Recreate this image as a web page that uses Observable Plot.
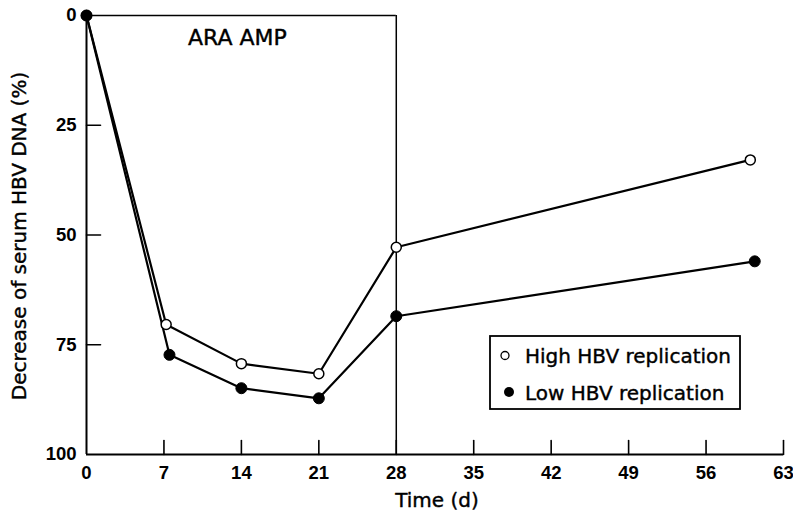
<!DOCTYPE html>
<html>
<head>
<meta charset="utf-8">
<script src="https://cdn.jsdelivr.net/npm/d3@7"></script>
<script src="https://cdn.jsdelivr.net/npm/@observablehq/plot@0.6"></script>
<style>
  html, body { margin: 0; padding: 0; background: #fff; }
  #chart { position: relative; width: 793px; height: 511px; }
  #chart svg text { fill: #000; }
  #legend { position: absolute; left: 489px; top: 335px; }
</style>
</head>
<body>
<div id="chart"></div>
<script>
// ---- data ----
const highDays = [0, 7.2, 14, 21, 28, 60];
const highDecrease = [0, 70.4, 79.3, 81.6, 52.8, 32.9];
const lowDays = [0, 7.5, 14, 21, 28, 60.4];
const lowDecrease = [0, 77.3, 84.9, 87.2, 68.5, 56.0];
const xTicks = [0, 7, 14, 21, 28, 35, 42, 49, 56, 63];
const yTicks = [0, 25, 50, 75, 100];
const treatmentDays = [0, 28];
const treatmentLabel = "ARA AMP";
const xLabel = "Time (d)";
const yLabel = "Decrease of serum HBV DNA (%)";
const seriesNames = ["High HBV replication", "Low HBV replication"];

const high = highDays.map((d, i) => ({day: d, value: highDecrease[i]}));
const low = lowDays.map((d, i) => ({day: d, value: lowDecrease[i]}));

const tickShape = {draw(context, l) { context.moveTo(0, 0); context.lineTo(0, -l); }};
const sans = "DejaVu Sans";
const tickFont = "'Liberation Sans', Arial, sans-serif";
const heavy = {stroke: "#000", strokeWidth: 0.4, paintOrder: "stroke"};

const chart = Plot.plot({
  width: 793,
  height: 511,
  marginLeft: 86,
  marginRight: 10,
  marginTop: 15,
  marginBottom: 57,
  style: {fontFamily: sans, background: "#fff", color: "#000"},
  x: {domain: [0, 63]},
  y: {domain: [0, 100], reverse: true},
  marks: [
    Plot.axisX({ticks: xTicks, tickSize: 0, tickPadding: 11, fontSize: 18.5, fontWeight: "bold", fontFamily: tickFont, label: null, tickFormat: d => d}),
    Plot.axisY({ticks: yTicks, tickSize: 0, tickPadding: 10, fontSize: 18.5, fontWeight: "bold", fontFamily: tickFont, label: null, tickFormat: d => d}),
    // inward tick marks
    Plot.vector(xTicks.slice(1), {x: d => d, frameAnchor: "bottom", length: 14, anchor: "start", rotate: 0, shape: tickShape, stroke: "#000", strokeWidth: 1.6}),
    Plot.vector(yTicks.slice(1, -1), {y: d => d, frameAnchor: "left", length: 14, anchor: "start", rotate: 90, shape: tickShape, stroke: "#000", strokeWidth: 1.6}),
    // frame lines
    Plot.ruleX([0], {stroke: "#000", strokeWidth: 2}),
    Plot.ruleY([100], {stroke: "#000", strokeWidth: 2}),
    Plot.ruleY([0], {x1: treatmentDays[0], x2: treatmentDays[1], stroke: "#000", strokeWidth: 1.5}),
    Plot.ruleX([treatmentDays[1]], {stroke: "#000", strokeWidth: 1.5}),
    Plot.text([treatmentLabel], {x: () => (treatmentDays[0] + treatmentDays[1]) / 2, frameAnchor: "top", dy: 14, dx: -4, lineAnchor: "top", textAnchor: "middle", fontSize: 22, fontFamily: sans, fill: "#000", ...heavy}),
    // series
    Plot.line(high, {x: "day", y: "value", stroke: "#000", strokeWidth: 2.2}),
    Plot.line(low, {x: "day", y: "value", stroke: "#000", strokeWidth: 2.2}),
    Plot.dot(high, {x: "day", y: "value", r: 5, fill: "#fff", stroke: "#000", strokeWidth: 1.5}),
    Plot.dot(low, {x: "day", y: "value", r: 5.5, fill: "#000", stroke: "#000", strokeWidth: 1}),
    // axis titles
    Plot.text([xLabel], {frameAnchor: "bottom", dy: 46, dx: 2, lineAnchor: "middle", textAnchor: "middle", fontSize: 20, fontFamily: sans, fill: "#000", ...heavy}),
    Plot.text([yLabel], {frameAnchor: "left", dx: -67, dy: 1, rotate: -90, lineAnchor: "middle", textAnchor: "middle", fontSize: 20, fontFamily: sans, fill: "#000", ...heavy})
  ]
});
document.getElementById("chart").appendChild(chart);

// legend (HTML overlay with inline SVG)
const legend = d3.select("#chart").append("svg")
  .attr("id", "legend")
  .attr("width", 252).attr("height", 75)
  .style("font-family", sans);
legend.append("rect").attr("x", 1).attr("y", 1).attr("width", 250).attr("height", 73)
  .attr("fill", "#fff").attr("stroke", "#000").attr("stroke-width", 1.8);
legend.append("circle").attr("cx", 16).attr("cy", 20.5).attr("r", 4).attr("fill", "#fff").attr("stroke", "#000").attr("stroke-width", 1.3);
legend.append("circle").attr("cx", 20).attr("cy", 57).attr("r", 5).attr("fill", "#000");
legend.selectAll("text.lbl").data(seriesNames).join("text")
  .attr("class", "lbl")
  .attr("x", 36).attr("y", (d, i) => i === 0 ? 28 : 64.5)
  .attr("font-size", 20).attr("fill", "#000")
  .attr("stroke", "#000").attr("stroke-width", 0.4).attr("paint-order", "stroke")
  .text(d => d);
</script>
</body>
</html>
